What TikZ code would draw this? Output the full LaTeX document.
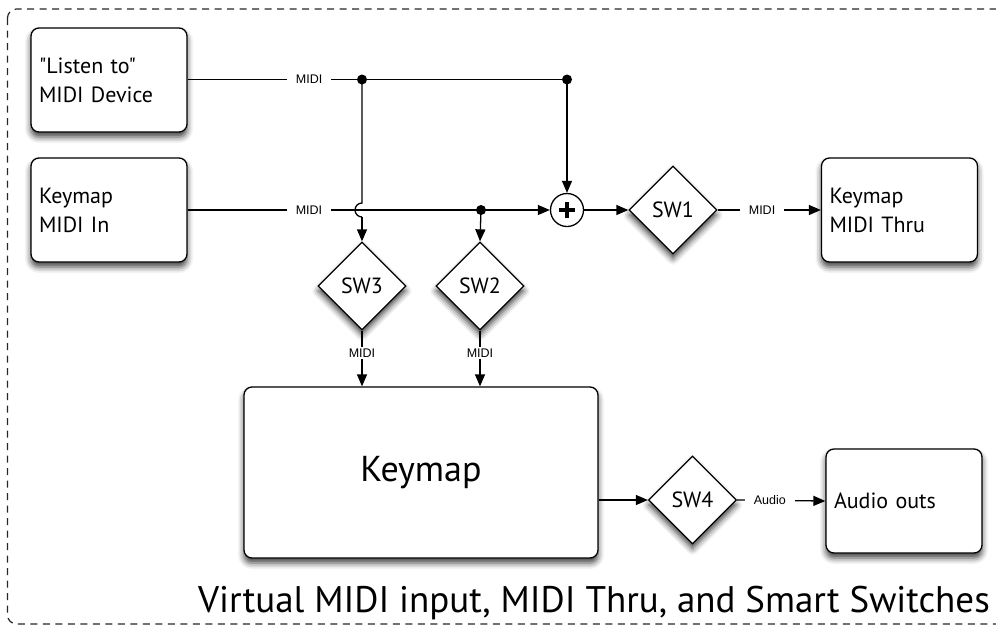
\documentclass[tikz,border=0pt]{standalone}
\usepackage{fontspec}
\setmainfont{PT Sans}
\newfontfamily\plainsans{PT Sans}
\newfontfamily\labelfont{Liberation Sans}
\usetikzlibrary{shapes.geometric,arrows.meta,shadows.blur}
\tikzset{
  every picture/.style={x=1pt,y=-1pt},
  conn/.style={line width=1.3pt,black},
  arr/.style={conn,-{Triangle[length=12pt,width=10pt]}},
  shad/.style={blur shadow={shadow xshift=0pt,shadow yshift=-5pt,shadow blur radius=6pt,shadow opacity=75}},
  boxnode/.style={draw,line width=1.3pt,rounded corners=8pt,fill=white,shad,
    align=left,text width=140pt,inner xsep=8pt,minimum width=156pt,minimum height=104pt,
    font=\fontsize{22}{29}\selectfont},
  swnode/.style={diamond,aspect=1,draw,line width=1.3pt,fill=white,inner sep=0pt,minimum size=88pt,shad,
    font=\fontsize{22}{26}\selectfont},
  midlabel/.style={fill=white,inner xsep=9pt,inner ysep=2pt,font=\labelfont\fontsize{12.5}{14}\selectfont},
  dotnode/.style={circle,fill=black,inner sep=0pt,minimum size=10pt},
}
\begin{document}
\begin{tikzpicture}
\useasboundingbox (0,0) rectangle (996,625);
\clip (0,0) rectangle (996,625);
\draw[line width=1.2pt,black!85,dash pattern=on 7pt off 5.5pt,rounded corners=9pt] (7.5,9) rectangle (1010,624);

% boxes
\node[boxnode] (listen) at (109,80) {\plainsans"Listen to"\\MIDI Device};
\node[boxnode] (kin) at (109,210) {Keymap\\MIDI In};
\node[boxnode] (kthru) at (899.5,210) {Keymap\\MIDI Thru};
\node[boxnode] (aout) at (904,501) {Audio outs};
\node[draw,line width=1.3pt,rounded corners=8pt,fill=white,shad,
    minimum width=354pt,minimum height=171pt,font=\fontsize{36}{42}\selectfont] (keymap) at (421,472.5) {Keymap};

% switches
\node[swnode] (sw1) at (673,210) {SW1};
\node[swnode] (sw2) at (480,286) {SW2};
\node[swnode] (sw3) at (362,286) {SW3};
\node[swnode] (sw4) at (692.5,500) {SW4};

% mixer
\node[circle,draw,line width=1.3pt,fill=white,minimum size=33pt,inner sep=0pt] (pc) at (567,210) {};
\draw[line width=4.5pt] ([xshift=-8pt]pc.center) -- ([xshift=8pt]pc.center);
\draw[line width=4.5pt] ([yshift=-8pt]pc.center) -- ([yshift=8pt]pc.center);

% junction points
\coordinate (j1) at (362,79.5);
\coordinate (j2) at (567,79.5);
\coordinate (j3) at (481,210);
\coordinate (hop) at (362,203);

% top MIDI line
\draw[conn] (listen.east |- j1) -- node[midlabel,pos=0.697] {MIDI} (j1) -- (j2);
\draw[arr] (j2) -- (pc.north);
\draw[conn] (j1) -- (hop) arc[start angle=90,end angle=270,radius=7pt];
\draw[arr] ([yshift=-14pt]hop) -- (sw3.north);

% second MIDI line
\draw[arr] (kin.east) -- node[midlabel,pos=0.335] {MIDI} (pc.west);
\draw[arr] (j3) -- (sw2.north);
\draw[arr] (pc.east) -- (sw1.west);
\draw[arr] (sw1.east) -- node[midlabel,pos=0.43] {MIDI} (kthru.west);

% to keymap
\draw[arr] (sw3.south) -- node[midlabel,pos=0.40] {MIDI} (sw3.south |- keymap.north);
\draw[arr] (sw2.south) -- node[midlabel,pos=0.40] {MIDI} (sw2.south |- keymap.north);

% keymap to audio
\draw[arr] (keymap.east |- sw4.west) -- (sw4.west);
\draw[arr] (sw4.east) -- node[midlabel,pos=0.37] {Audio} (aout.west);

\node[dotnode] (d1) at (j1) {};
\node[dotnode] (d2) at (j2) {};
\node[dotnode] (d3) at (j3) {};

\node[anchor=base east,font=\fontsize{37}{44}\selectfont,inner sep=0pt] (title) at (990,612) {Virtual MIDI input, MIDI Thru, and Smart Switches};
\end{tikzpicture}
\end{document}
